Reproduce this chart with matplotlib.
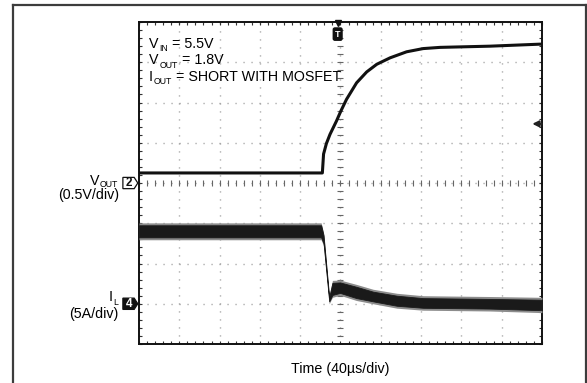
import numpy as np
import matplotlib
matplotlib.use("Agg")
import matplotlib.pyplot as plt
from matplotlib.lines import Line2D
from matplotlib.patches import Polygon

plt.rcParams['font.family'] = ['Liberation Sans', 'DejaVu Sans']

# scope screen: 10 x 8 divisions, y in divisions from centre
# V_OUT trace (ch2, ground at 0 div)
vout_t = [0, 4.55, 4.58, 4.65, 4.74, 4.90, 5.01, 5.15, 5.40, 5.65, 5.90, 6.23, 6.64, 7.05, 7.47, 7.88, 8.71, 9.95, 10]
vout_v = [0.25, 0.25, 0.72, 0.98, 1.21, 1.54, 1.79, 2.08, 2.49, 2.76, 2.95, 3.11, 3.26, 3.34, 3.37, 3.38, 3.40, 3.45, 3.45]

# I_L trace (ch4, ground at -3 div), drawn as a noise band
il_t = [0, 4.52, 4.58, 4.72, 4.80, 4.99, 5.40, 5.81, 6.40, 7.05, 8.71, 10]
il_hi = [-1.05, -1.05, -1.30, -2.84, -2.48, -2.47, -2.58, -2.70, -2.80, -2.86, -2.88, -2.90]
il_lo = [-1.35, -1.35, -1.50, -2.94, -2.78, -2.73, -2.86, -2.94, -3.05, -3.10, -3.12, -3.16]

notes_main = ["V", "V", "I"]
notes_sub = ["IN", "OUT", "OUT"]
notes_rest = [" = 5.5V", " = 1.8V", " = SHORT WITH MOSFET"]
notes_y = [3.36, 2.95, 2.53]
trig_level = 1.47

FS = 10.3
FS_SUB = 6.3

fig = plt.figure(figsize=(5.87, 3.83), dpi=100)
ax = fig.add_axes([0.2368, 0.1018, 0.6865, 0.8407])
ax.set_xlim(0, 10)
ax.set_ylim(-4, 4)

# outer frame (bottom runs off the picture)
fc = '#3c3c3c'
x0, x1, yt = 12.5 / 587, 585.5 / 587, 1 - 4.7 / 383
for xs, ys in [([x0, x0], [-0.1, yt]), ([x0, x1], [yt, yt]), ([x1, x1], [yt, -0.1])]:
    fig.add_artist(Line2D(xs, ys, transform=fig.transFigure, color=fc, lw=1.6))

# graticule
ax.set_xticks(np.arange(0, 11, 1))
ax.set_yticks(np.arange(-4, 5, 1))
ax.set_xticks(np.arange(0, 10.01, 0.2), minor=True)
ax.set_yticks(np.arange(-4, 4.01, 0.2), minor=True)
ax.tick_params(which='both', direction='in', length=2.4, width=0.8, color='#333',
               top=True, right=True, labelbottom=False, labelleft=False)
ax.grid(which='major', linestyle=(0, (0.8, 4.96)), lw=1.0, color='#999')
for s in ax.spines.values():
    s.set_linewidth(1.4)
    s.set_color('#111')
ax.plot(np.full(41, 5.0), np.arange(-4, 4.01, 0.2), ls='none', marker='_', ms=4.5, mew=0.8, color='#666')
ax.plot(np.arange(0, 10.01, 0.2), np.zeros(51), ls='none', marker='|', ms=4.5, mew=0.8, color='#666')

# traces
ax.fill_between(il_t, np.array(il_hi) + 0.06, np.array(il_lo) - 0.06, color='#8c8c8c', lw=0, zorder=3)
ax.fill_between(il_t, il_hi, il_lo, color='#1a1a1a', lw=0.6, edgecolor='#1a1a1a', zorder=4)
ax.plot(vout_t, vout_v, color='#111', lw=2.2, zorder=5, solid_joinstyle='round')


# text with small, low subscript, left aligned
def sub_text(x, y, main, sub, rest):
    t1 = ax.text(x, y, main, fontsize=FS, va='baseline', ha='left', zorder=6)
    t2 = ax.annotate(sub, xy=(1, y - 0.08), xycoords=(t1, 'data'), xytext=(0.4, 0),
                     textcoords='offset points', fontsize=FS_SUB, va='baseline', ha='left', zorder=6)
    ax.annotate(rest, xy=(1, y), xycoords=(t2, 'data'), fontsize=FS, va='baseline', ha='left', zorder=6)


# same, right aligned at x
def sub_text_right(x, y, main, sub, dy):
    t2 = ax.text(x, y - dy, sub, fontsize=FS_SUB, va='baseline', ha='right', clip_on=False)
    ax.annotate(main, xy=(0, y), xycoords=(t2, 'data'), xytext=(-0.4, 0),
                textcoords='offset points', fontsize=FS, va='baseline', ha='right')


for m, s, r, y in zip(notes_main, notes_sub, notes_rest, notes_y):
    sub_text(0.25, y, m, s, r)

sub_text_right(-0.52, -0.06, "V", "OUT", 0.03)
ax.text(-0.49, -0.40, "(0.5V/div)", fontsize=FS, ha='right', va='baseline')
sub_text_right(-0.52, -2.94, "I", "L", 0.08)
ax.text(-0.52, -3.36, "(5A/div)", fontsize=FS, ha='right', va='baseline')
ax.text(5.0, -4.71, "Time (40µs/div)", fontsize=FS, ha='center', va='baseline')


# channel markers
def chan_marker(y, label, filled):
    pts = [(-0.40, y + 0.14), (-0.12, y + 0.14), (-0.03, y), (-0.12, y - 0.14), (-0.40, y - 0.14)]
    ax.add_patch(Polygon(pts, closed=True, clip_on=False, lw=0.9, edgecolor='#111',
                         facecolor='#111' if filled else 'white'))
    ax.text(-0.245, y, label, fontsize=8.5, ha='center', va='center', fontweight='bold',
            color='white' if filled else '#111', clip_on=False)


chan_marker(0.0, "2", False)
chan_marker(-3.0, "4", True)

# trigger position and level
ax.plot([4.93], [3.97], marker='v', ms=5, color='#111', clip_on=False, zorder=7)
ax.text(4.93, 3.7, "T", fontsize=6.5, fontweight='bold', color='white', ha='center', va='center',
        bbox=dict(boxstyle='round,pad=0.18', fc='#111', ec='#111'), zorder=7)
ax.annotate('', xy=(9.76, trig_level), xytext=(10.0, trig_level),
            arrowprops=dict(arrowstyle='-|>', color='#222', lw=1.5, mutation_scale=9,
                            shrinkA=0, shrinkB=0), zorder=7)

fig.savefig("out.png", dpi=100)
